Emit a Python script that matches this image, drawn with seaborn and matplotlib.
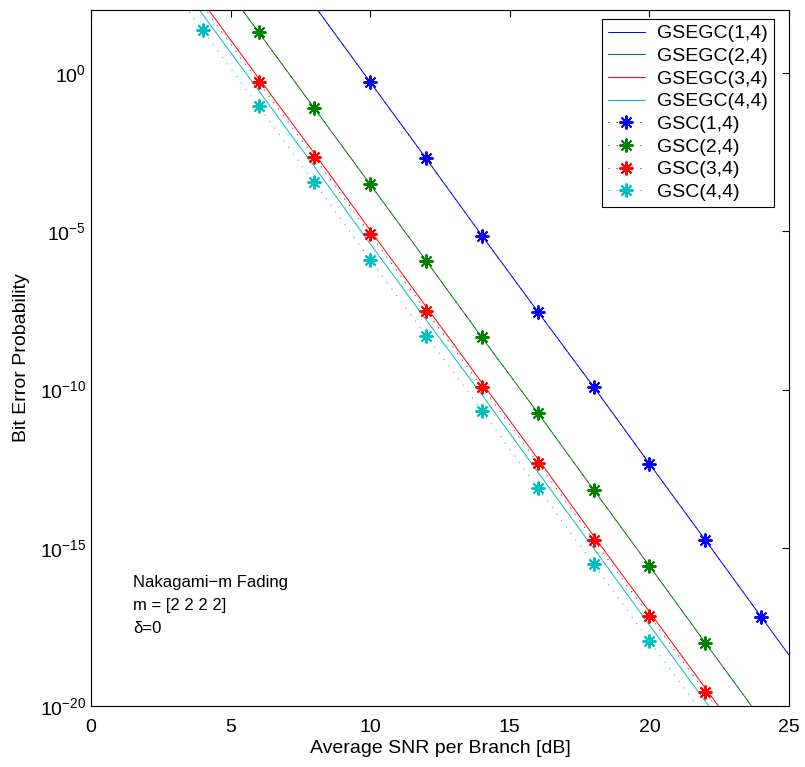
import numpy as np
import pandas as pd
import matplotlib
matplotlib.use("Agg")
import matplotlib.pyplot as plt
import seaborn as sns
from matplotlib.ticker import LogFormatterMathtext, FixedLocator, NullLocator

# ---------------- data ----------------
snr_blue = [8, 10, 12, 14, 16, 18, 20, 22, 24]
gsc_14 = [138, 0.525, 2.04e-3, 7.41e-6, 2.95e-8, 1.23e-10, 4.57e-13, 1.78e-15, 6.61e-18]
snr_blue_l = [8, 10, 12, 14, 16, 18, 20, 22, 24, 25]
gsegc_14 = [138, 0.525, 2.04e-3, 7.41e-6, 2.95e-8, 1.23e-10, 4.57e-13, 1.78e-15, 6.61e-18, 4.07e-19]

snr_green = [4, 6, 8, 10, 12, 14, 16, 18, 20, 22, 24]
gsc_24 = [5.1e3, 20.0, 7.76e-2, 3.09e-4, 1.20e-6, 4.47e-9, 1.86e-11, 6.92e-14, 2.69e-16, 1.0e-18, 3.9e-21]
gsegc_24 = [5.1e3, 20.0, 7.76e-2, 3.09e-4, 1.20e-6, 4.47e-9, 1.86e-11, 6.92e-14, 2.69e-16, 1.0e-18, 3.9e-21]

snr_red = [4, 6, 8, 10, 12, 14, 16, 18, 20, 22, 24]
gsc_34 = [135, 0.525, 2.19e-3, 8.13e-6, 3.16e-8, 1.23e-10, 4.90e-13, 1.78e-15, 7.08e-18, 2.75e-20, 1.07e-22]
gsegc_34 = [182, 0.708, 2.95e-3, 1.10e-5, 4.27e-8, 1.66e-10, 6.61e-13, 2.40e-15, 9.55e-18, 3.72e-20, 1.45e-22]

snr_cyan = [2, 4, 6, 8, 10, 12, 14, 16, 18, 20, 22]
gsc_44 = [5.89e3, 22.9, 9.12e-2, 3.55e-4, 1.29e-6, 5.13e-9, 2.19e-11, 7.94e-14, 3.09e-16, 1.15e-18, 4.47e-21]
snr_cyan_l = [2, 4, 6, 8, 10, 12, 14, 16, 18, 20, 22, 24]
gsegc_44 = [1.86e4, 72.4, 0.288, 1.12e-3, 4.07e-6, 1.62e-8, 6.92e-11, 2.51e-13, 9.77e-16, 3.63e-18, 1.41e-20, 5.5e-23]

labels_gsegc = ["GSEGC(1,4)", "GSEGC(2,4)", "GSEGC(3,4)", "GSEGC(4,4)"]
labels_gsc = ["GSC(1,4)", "GSC(2,4)", "GSC(3,4)", "GSC(4,4)"]
colors = ["#0000ff", "#008000", "#ff0000", "#00bfbf"]

yticks = [1e-20, 1e-15, 1e-10, 1e-5, 1e0]
xticks = [0, 5, 10, 15, 20, 25]
annotation = ["Nakagami\u2212m Fading", "m = [2 2 2 2]", "\u03b4=0"]

# ---------------- style ----------------
sns.set_style("white")
plt.rcParams["font.family"] = ["Liberation Sans", "DejaVu Sans"]
plt.rcParams["mathtext.fontset"] = "custom"
plt.rcParams["mathtext.rm"] = "Liberation Sans"
plt.rcParams["mathtext.it"] = "Liberation Sans:italic"
plt.rcParams["mathtext.bf"] = "Liberation Sans:bold"
plt.rcParams["axes.unicode_minus"] = True
for k in ["text.color", "axes.labelcolor", "xtick.color", "ytick.color"]:
    plt.rcParams[k] = "black"

fig = plt.figure(figsize=(8.05, 7.67), dpi=100)
ax = fig.add_axes([91 / 805, 1 - 706 / 767, 698 / 805, 696 / 767])

solid_sets = [(snr_blue_l, gsegc_14), (snr_green, gsegc_24), (snr_red, gsegc_34), (snr_cyan_l, gsegc_44)]
dot_sets = [(snr_blue, gsc_14), (snr_green, gsc_24), (snr_red, gsc_34), (snr_cyan, gsc_44)]

for (x, y), lab, c in zip(solid_sets, labels_gsegc, colors):
    df = pd.DataFrame({"snr": x, "pb": y})
    sns.lineplot(data=df, x="snr", y="pb", ax=ax, color=c, linewidth=0.7,
                 label=lab, estimator=None, sort=False)

for (x, y), lab, c in zip(dot_sets, labels_gsc, colors):
    df = pd.DataFrame({"snr": x, "pb": y})
    sns.lineplot(data=df, x="snr", y="pb", ax=ax, color=c, linewidth=0.7,
                 linestyle=(0, (1.2, 7)), marker=(8, 2, 0), markersize=10,
                 markeredgewidth=1.4, markeredgecolor=c, markevery=slice(1, None),
                 label=lab, estimator=None, sort=False)

ax.set_yscale("log")
ax.set_xlim(0, 25)
ax.set_ylim(1e-20, 1e2)
ax.yaxis.set_major_locator(FixedLocator(yticks))
ax.yaxis.set_minor_locator(NullLocator())
ax.yaxis.set_major_formatter(LogFormatterMathtext())
ax.set_xticks(xticks)
ax.tick_params(axis="both", which="major", direction="in", length=4.8, width=0.8,
               top=True, right=True, labelsize=14, color="black")
ax.tick_params(axis="x", pad=9)
ax.tick_params(axis="y", pad=3.5)
for s in ax.spines.values():
    s.set_color("black")
    s.set_linewidth(0.8)

ax.set_xlabel("Average SNR per Branch [dB]", fontsize=14, labelpad=3)
ax.set_ylabel("Bit Error Probability", fontsize=14, labelpad=7)

for i, t in enumerate(annotation):
    ax.text(1.52, 10 ** (-16.1 - 0.73 * i), t, fontsize=12, va="center", ha="left")

leg = ax.legend(loc="upper right", bbox_to_anchor=(0.9785, 0.987), fontsize=14,
                frameon=True, fancybox=False, edgecolor="black", framealpha=1,
                handlelength=1.9, labelspacing=0.26, borderpad=0.3, handletextpad=0.65,
                borderaxespad=0)
leg.get_frame().set_linewidth(0.8)

fig.savefig("out.png", dpi=100)
